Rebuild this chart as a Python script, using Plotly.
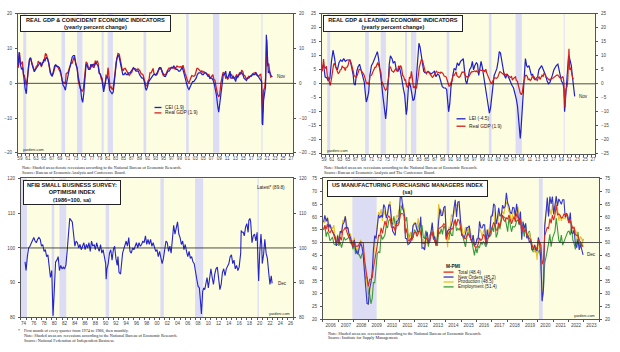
import plotly.graph_objects as go

# ---------------- DATA ----------------
# Panel 1 / 2 : Real GDP yoy (quarterly)
gdp_t = [1959.1,1959.4,1959.6,1959.9,1960.1,1960.4,1960.6,1960.9,1961.1,1961.4,1961.6,1961.9,
 1962.1,1962.4,1962.6,1962.9,1963.1,1963.4,1963.6,1963.9,1964.1,1964.4,1964.6,1964.9,
 1965.1,1965.4,1965.6,1965.9,1966.1,1966.4,1966.6,1966.9,1967.1,1967.4,1967.6,1967.9,
 1968.1,1968.4,1968.6,1968.9,1969.1,1969.4,1969.6,1969.9,1970.1,1970.4,1970.6,1970.9,
 1971.1,1971.4,1971.6,1971.9,1972.1,1972.4,1972.6,1972.9,1973.1,1973.4,1973.6,1973.9,
 1974.1,1974.4,1974.6,1974.9,1975.1,1975.4,1975.6,1975.9,1976.1,1976.4,1976.6,1976.9,
 1977.1,1977.4,1977.6,1977.9,1978.1,1978.4,1978.6,1978.9,1979.1,1979.4,1979.6,1979.9,
 1980.1,1980.4,1980.6,1980.9,1981.1,1981.4,1981.6,1981.9,1982.1,1982.4,1982.6,1982.9,
 1983.1,1983.4,1983.6,1983.9,1984.1,1984.4,1984.6,1984.9,1985.1,1985.4,1985.6,1985.9,
 1986.1,1986.4,1986.6,1986.9,1987.1,1987.4,1987.6,1987.9,1988.1,1988.4,1988.6,1988.9,
 1989.1,1989.4,1989.6,1989.9,1990.1,1990.4,1990.6,1990.9,1991.1,1991.4,1991.6,1991.9,
 1992.1,1992.4,1992.6,1992.9,1993.1,1993.4,1993.6,1993.9,1994.1,1994.4,1994.6,1994.9,
 1995.1,1995.4,1995.6,1995.9,1996.1,1996.4,1996.6,1996.9,1997.1,1997.4,1997.6,1997.9,
 1998.1,1998.4,1998.6,1998.9,1999.1,1999.4,1999.6,1999.9,2000.1,2000.4,2000.6,2000.9,
 2001.1,2001.4,2001.6,2001.9,2002.1,2002.4,2002.6,2002.9,2003.1,2003.4,2003.6,2003.9,
 2004.1,2004.4,2004.6,2004.9,2005.1,2005.4,2005.6,2005.9,2006.1,2006.4,2006.6,2006.9,
 2007.1,2007.4,2007.6,2007.9,2008.1,2008.4,2008.6,2008.9,2009.1,2009.4,2009.6,2009.9,
 2010.1,2010.4,2010.6,2010.9,2011.1,2011.4,2011.6,2011.9,2012.1,2012.4,2012.6,2012.9,
 2013.1,2013.4,2013.6,2013.9,2014.1,2014.4,2014.6,2014.9,2015.1,2015.4,2015.6,2015.9,
 2016.1,2016.4,2016.6,2016.9,2017.1,2017.4,2017.6,2017.9,2018.1,2018.4,2018.6,2018.9,
 2019.1,2019.4,2019.6,2019.9,2020.1,2020.4,2020.6,2020.9,2021.1,2021.4,2021.6,2021.9,
 2022.1,2022.4,2022.6]
gdp_v = [4.5,8.8,6.0,5.5,6.3,2.3,2.3,0.5,-0.6,1.8,4.5,6.6,
 7.4,6.3,5.8,4.0,3.7,4.1,4.9,5.2,6.4,5.8,5.8,4.7,
 5.9,6.0,6.6,8.5,8.4,7.3,6.5,4.5,3.0,2.5,2.3,3.0,
 4.4,5.2,5.1,4.9,4.4,3.7,3.3,2.0,0.7,0.2,0.3,-0.2,
 2.8,3.0,3.3,4.4,5.0,5.9,5.8,6.6,7.6,6.3,5.2,4.0,
 1.0,-0.2,-1.5,-1.9,-2.3,-1.7,0.3,2.6,6.2,5.7,4.7,4.4,
 4.2,4.8,5.5,4.6,4.6,6.5,5.7,6.5,5.8,2.9,2.8,1.3,
 1.4,-0.8,-1.3,0.0,2.3,2.1,4.5,1.3,-1.4,-1.0,-1.8,-1.4,
 1.6,3.5,6.0,7.8,8.6,8.4,6.8,5.8,4.2,3.6,4.2,4.3,
 3.9,3.2,3.0,2.3,2.6,3.3,3.3,4.5,4.2,4.2,4.0,3.8,
 4.2,3.9,3.6,2.7,2.7,2.4,1.5,0.6,-0.8,-0.6,0.6,1.2,
 3.0,3.0,3.5,4.3,2.9,2.6,2.3,2.6,3.6,4.2,4.1,4.3,
 3.4,2.4,2.6,2.4,2.6,3.7,3.9,4.4,4.3,4.5,4.6,4.3,
 4.6,4.1,4.5,5.0,4.8,4.7,4.7,4.8,4.2,5.2,4.0,2.9,
 2.3,1.0,0.5,0.2,1.1,1.7,2.2,2.0,2.0,2.3,3.5,4.3,
 4.3,3.9,3.7,3.3,3.7,3.1,3.4,3.1,3.1,2.8,2.3,2.6,
 1.3,1.9,2.3,2.5,1.2,0.9,-0.5,-2.8,-3.3,-3.9,-3.2,0.1,
 1.6,3.0,3.1,2.6,1.5,1.7,1.2,1.6,2.6,2.3,2.5,1.5,
 1.6,1.2,2.0,2.6,1.5,2.7,3.1,2.6,3.8,3.4,2.4,2.2,
 1.6,1.3,1.6,2.0,1.9,2.1,2.3,2.8,2.9,3.2,3.1,2.3,
 2.2,2.0,2.4,2.6,0.6,-8.4,-2.1,-1.1,1.2,12.5,5.0,5.7,
 3.7,1.8,1.9]

# Panel 1 : Coincident Economic Indicators yoy
cei_t = [1959.0,1959.3,1959.6,1959.9,1960.2,1960.5,1960.8,1961.1,1961.3,1961.6,1961.9,
 1962.2,1962.5,1962.8,1963.1,1963.4,1963.7,1964.0,1964.3,1964.6,1964.9,1965.2,1965.5,1965.8,
 1966.1,1966.4,1966.7,1967.0,1967.3,1967.6,1967.9,1968.2,1968.5,1968.8,1969.1,1969.4,1969.7,
 1970.0,1970.3,1970.6,1970.9,1971.1,1971.4,1971.7,1972.0,1972.3,1972.6,1972.9,1973.2,1973.5,
 1973.8,1974.1,1974.4,1974.7,1975.0,1975.25,1975.5,1975.8,1976.1,1976.4,1976.7,1977.0,1977.3,
 1977.6,1977.9,1978.2,1978.5,1978.8,1979.1,1979.4,1979.7,1980.0,1980.3,1980.5,1980.8,1981.1,
 1981.4,1981.7,1982.0,1982.3,1982.6,1982.9,1983.2,1983.5,1983.8,1984.1,1984.4,1984.7,1985.0,
 1985.3,1985.6,1985.9,1986.2,1986.5,1986.8,1987.1,1987.4,1987.7,1988.0,1988.3,1988.6,1988.9,
 1989.2,1989.5,1989.8,1990.1,1990.4,1990.7,1991.0,1991.2,1991.5,1991.8,1992.1,1992.4,1992.7,
 1993.0,1993.3,1993.6,1993.9,1994.2,1994.5,1994.8,1995.1,1995.4,1995.7,1996.0,1996.3,1996.6,
 1996.9,1997.2,1997.5,1997.8,1998.1,1998.4,1998.7,1999.0,1999.3,1999.6,1999.9,2000.2,2000.5,
 2000.8,2001.1,2001.4,2001.7,2001.9,2002.2,2002.5,2002.8,2003.1,2003.4,2003.7,2004.0,2004.3,
 2004.6,2004.9,2005.2,2005.5,2005.8,2006.1,2006.4,2006.7,2007.0,2007.3,2007.6,2007.9,2008.2,
 2008.5,2008.8,2009.1,2009.35,2009.6,2009.9,2010.2,2010.5,2010.8,2011.1,2011.3,2011.6,2011.9,
 2012.2,2012.4,2012.7,2013.0,2013.3,2013.6,2013.9,2014.2,2014.5,2014.8,2015.1,2015.4,2015.7,
 2016.0,2016.3,2016.6,2016.9,2017.2,2017.5,2017.8,2018.1,2018.4,2018.7,2019.0,2019.3,2019.6,
 2019.9,2020.1,2020.25,2020.4,2020.6,2020.8,2021.0,2021.1,2021.3,2021.45,2021.6,2021.8,2022.0,
 2022.3,2022.6,2022.85]
cei_v = [5.0,9.0,5.5,4.0,4.5,1.0,-1.5,-3.0,0.5,4.5,7.0,
 7.3,5.5,4.0,3.3,4.0,4.5,4.8,5.5,6.0,5.0,6.3,6.8,6.5,
 7.5,7.0,6.0,4.0,2.5,2.0,3.5,5.0,5.3,4.8,4.8,4.5,3.5,
 1.5,-0.5,-1.0,-2.0,-0.5,2.0,3.0,4.5,6.5,7.5,8.0,8.0,5.5,
 4.5,2.0,0.5,-1.5,-4.5,-5.5,-3.0,1.0,5.5,5.0,4.0,4.0,5.5,
 5.0,5.5,5.0,6.0,5.5,5.0,3.0,2.5,1.5,-1.5,-2.5,-0.5,1.5,
 2.0,1.0,-2.0,-2.5,-3.0,-2.5,0.0,4.0,7.0,8.2,7.5,6.0,4.0,
 2.5,2.5,3.0,2.5,2.5,3.0,3.0,3.5,4.0,4.5,4.0,3.5,3.5,
 3.5,2.5,2.0,1.5,1.5,0.5,-1.5,-2.0,-1.0,0.5,1.0,1.5,2.0,
 2.5,2.5,2.5,3.0,4.0,4.5,4.5,3.5,2.5,2.0,2.0,3.0,3.5,
 3.5,4.0,4.5,4.5,5.0,4.5,4.0,4.0,3.5,3.5,4.0,4.5,3.5,
 2.0,0.5,-0.5,-1.5,-1.8,-1.0,0.0,0.5,0.5,1.0,1.5,2.5,3.0,
 3.0,3.0,2.5,2.5,3.0,3.0,2.5,2.0,2.0,1.5,1.5,1.0,0.0,
 -1.5,-3.5,-6.5,-8.3,-6.0,-2.5,0.5,2.5,2.5,3.5,2.0,1.5,2.5,
 3.5,1.5,1.5,2.0,1.5,0.5,2.0,2.0,2.5,3.0,3.0,2.5,1.5,
 1.0,0.8,1.5,1.5,2.0,2.0,2.5,2.5,2.5,3.0,2.5,2.0,1.5,
 1.0,0.5,-11.5,-12.0,-5.0,-3.0,-2.0,-1.0,14.0,9.0,4.0,3.0,3.5,
 2.5,2.0,1.9]

# Panel 2 : Leading Economic Indicators yoy
lei_t = [1959.0,1959.4,1959.8,1960.3,1960.6,1961.0,1961.4,1961.8,1962.2,1962.5,1962.9,1963.3,1963.7,
 1964.1,1964.5,1964.9,1965.3,1965.7,1966.1,1966.5,1966.9,1967.1,1967.4,1967.8,1968.1,1968.5,1968.9,
 1969.3,1969.7,1970.0,1970.2,1970.5,1970.8,1971.1,1971.5,1971.9,1972.3,1972.7,1973.0,1973.3,1973.7,
 1974.0,1974.4,1974.8,1975.1,1975.4,1975.7,1976.0,1976.3,1976.7,1977.0,1977.4,1977.8,1978.2,1978.6,
 1978.9,1979.2,1979.6,1979.9,1980.3,1980.5,1980.8,1981.1,1981.4,1981.7,1982.0,1982.3,1982.6,1982.9,
 1983.2,1983.5,1983.8,1984.1,1984.4,1984.7,1985.0,1985.4,1985.8,1986.2,1986.6,1987.0,1987.4,1987.8,
 1988.2,1988.6,1989.0,1989.4,1989.8,1990.2,1990.5,1990.8,1991.0,1991.3,1991.6,1992.0,1992.4,1992.8,
 1993.2,1993.6,1994.0,1994.4,1994.7,1995.0,1995.3,1995.6,1995.9,1996.3,1996.7,1997.0,1997.3,1997.6,
 1998.0,1998.3,1998.6,1998.9,1999.2,1999.5,1999.8,2000.1,2000.4,2000.7,2001.0,2001.3,2001.6,2001.9,
 2002.2,2002.5,2002.8,2003.2,2003.5,2003.8,2004.1,2004.4,2004.7,2005.0,2005.4,2005.8,2006.2,2006.6,
 2007.0,2007.4,2007.8,2008.1,2008.4,2008.7,2008.9,2009.1,2009.3,2009.6,2009.9,2010.2,2010.4,2010.7,
 2011.0,2011.3,2011.6,2011.9,2012.2,2012.5,2012.8,2013.1,2013.5,2013.8,2014.1,2014.5,2014.8,2015.1,
 2015.5,2015.9,2016.2,2016.6,2016.9,2017.2,2017.6,2017.9,2018.2,2018.6,2018.9,2019.2,2019.5,2019.9,
 2020.1,2020.3,2020.5,2020.7,2020.9,2021.1,2021.3,2021.5,2021.8,2022.0,2022.2,2022.4,2022.6,2022.75,
 2022.85]
lei_v = [5.5,7.0,2.5,2.0,1.0,2.0,8.0,12.0,9.0,6.0,5.0,7.5,8.5,
 8.0,9.0,8.0,8.5,8.5,8.5,6.0,3.0,0.0,-0.5,4.5,6.0,7.0,5.0,
 3.0,0.5,-4.0,-6.5,-5.0,-3.0,3.0,6.5,7.5,9.0,10.0,11.5,9.0,5.0,
 1.0,-4.5,-10.0,-12.5,-8.0,0.0,7.0,10.0,9.0,7.5,8.0,5.0,4.5,6.0,
 4.0,1.5,-2.0,-4.0,-11.0,-9.0,-2.0,0.5,-1.0,-4.0,-6.0,-5.5,-3.0,3.0,
 10.0,14.5,13.0,10.0,7.0,4.5,4.0,4.0,4.5,4.0,3.5,4.0,4.5,2.5,
 3.5,3.0,1.0,-1.0,-1.5,-1.5,-2.0,-6.0,-10.0,-7.0,-1.0,2.5,5.5,5.0,
 7.5,6.5,8.0,8.5,9.0,5.0,1.0,0.0,2.0,5.0,6.0,8.0,5.0,6.5,
 7.5,7.0,3.0,5.5,8.0,6.0,3.5,1.0,-2.0,-5.5,-7.5,-10.5,-8.5,-5.0,
 -1.0,3.0,4.0,5.5,8.0,11.5,11.0,9.0,6.0,3.5,2.0,3.5,2.0,0.5,
 -0.5,-1.5,-3.5,-5.5,-8.0,-12.0,-17.0,-19.5,-16.0,-8.0,0.5,8.5,9.0,6.5,
 6.0,6.5,4.5,3.0,3.5,2.0,1.5,2.0,2.5,5.0,5.5,6.5,5.5,4.5,
 3.0,1.0,0.0,0.5,1.5,3.0,5.0,6.0,6.5,7.0,5.0,2.5,1.0,0.0,
 -1.5,-10.0,-6.0,-2.0,0.5,6.0,10.0,9.5,7.5,6.5,3.5,1.0,-2.0,-4.0,
 -4.5]

# Panel 3 : NFIB Small Business Optimism Index
nfib_t = [1974.8,1975.0,1975.25,1975.5,1975.75,1976.0,1976.25,1976.5,1976.75,1977.0,1977.25,1977.5,
 1977.75,1978.0,1978.25,1978.5,1978.75,1979.0,1979.25,1979.5,1979.75,1980.0,1980.25,1980.5,1980.75,
 1981.0,1981.25,1981.5,1981.75,1982.0,1982.25,1982.5,1982.75,1983.0,1983.25,1983.5,1983.75,1984.0,
 1984.25,1984.5,1984.75,1985.0,1985.25,1985.5,1985.75,1986.0,1986.25,1986.5,1986.75,1987.0,1987.25,
 1987.5,1987.75,1988.0,1988.25,1988.5,1988.75,1989.0,1989.25,1989.5,1989.75,1990.0,1990.25,1990.5,
 1990.6,1990.75,1991.0,1991.25,1991.5,1991.75,1992.0,1992.25,1992.5,1992.75,1992.9,1993.1,1993.4,
 1993.6,1993.8,1994.0,1994.25,1994.5,1994.75,1995.0,1995.25,1995.5,1995.75,1996.0,1996.25,1996.5,
 1996.75,1997.0,1997.25,1997.5,1997.75,1998.0,1998.25,1998.5,1998.75,1999.0,1999.25,1999.5,1999.75,
 2000.0,2000.25,2000.5,2000.75,2001.0,2001.25,2001.5,2001.75,2002.0,2002.25,2002.5,2002.75,2003.0,
 2003.25,2003.5,2003.75,2004.0,2004.25,2004.5,2004.75,2005.0,2005.25,2005.5,2005.75,2006.0,2006.25,
 2006.5,2006.75,2007.0,2007.25,2007.5,2007.75,2008.0,2008.25,2008.5,2008.75,2009.0,2009.15,2009.4,
 2009.6,2009.8,2010.0,2010.25,2010.5,2010.75,2011.0,2011.25,2011.5,2011.75,2012.0,2012.25,2012.5,
 2012.75,2013.0,2013.25,2013.5,2013.75,2014.0,2014.25,2014.5,2014.75,2015.0,2015.25,2015.5,2015.75,
 2016.0,2016.25,2016.5,2016.8,2016.9,2017.1,2017.3,2017.5,2017.75,2018.0,2018.25,2018.4,2018.6,
 2018.75,2019.0,2019.25,2019.5,2019.75,2020.0,2020.15,2020.3,2020.5,2020.75,2020.9,2021.0,2021.25,
 2021.5,2021.75,2022.0,2022.25,2022.5,2022.75,2022.92]
nfib_v = [96.0,93.5,97.5,100.0,100.5,101.5,102.0,103.0,102.0,101.5,102.5,103.0,
 102.5,100.5,101.0,99.0,99.5,97.5,98.0,95.0,91.5,93.5,80.5,88.0,96.0,
 96.5,97.5,93.5,95.0,94.0,94.5,94.0,95.0,99.0,103.0,108.5,108.0,107.5,
 104.0,100.5,102.0,101.5,100.0,101.0,99.5,100.5,101.5,99.5,101.0,100.0,101.5,
 99.0,102.0,100.5,101.0,99.5,101.5,100.0,99.0,101.0,98.5,99.5,97.0,95.5,
 91.0,94.0,95.5,98.5,99.5,96.5,99.5,100.5,97.0,95.0,97.5,93.0,92.5,
 96.0,98.5,99.5,100.5,102.0,100.5,103.0,99.0,98.5,100.0,99.5,100.5,101.5,
 100.0,101.5,100.5,101.0,102.0,101.5,103.5,101.0,102.5,101.0,102.5,100.5,101.5,
 100.5,99.0,99.5,97.5,99.0,97.0,95.5,97.0,99.5,102.0,101.5,99.0,100.5,
 98.5,102.5,106.5,104.0,106.0,107.5,104.0,103.0,101.0,102.0,99.5,101.0,99.0,
 97.5,99.0,97.0,97.5,96.0,95.5,92.5,91.0,89.0,88.5,84.0,81.0,87.5,
 88.5,88.0,89.5,91.5,88.5,92.0,94.0,91.5,89.5,92.5,94.0,94.5,90.5,
 88.0,89.5,93.0,94.0,92.0,94.0,95.0,95.5,97.5,98.0,95.5,96.5,94.0,
 95.0,93.5,94.5,98.5,105.0,104.5,104.5,103.5,106.0,107.0,104.5,108.0,108.5,
 107.5,101.5,103.5,104.0,102.0,104.5,96.5,90.5,98.5,104.0,101.0,95.5,98.0,
 102.5,98.5,97.0,93.0,89.5,92.0,89.8]

# Panel 4 : ISM manufacturing PMI, monthly Jan 2006 - Dec 2022
pmi_years = list(range(2006, 2023))
pmi_total = [54.8,56.7,55.2,57.3,54.4,53.8,54.7,54.5,52.9,51.2,49.5,51.4,
 49.3,52.3,50.9,54.7,55.0,56.0,53.8,52.9,52.0,50.9,50.8,48.4,
 50.7,48.3,48.6,48.6,49.6,50.2,50.0,49.9,43.5,38.9,36.2,32.9,
 35.6,35.8,36.3,40.1,42.8,44.8,48.9,52.8,52.6,55.7,53.6,55.9,
 58.4,56.5,59.6,60.4,59.7,56.2,55.5,56.3,54.4,56.9,56.6,57.5,
 60.8,61.4,61.2,60.4,53.5,55.3,50.9,50.6,51.6,50.8,52.7,53.9,
 54.1,52.4,53.4,54.8,53.5,49.7,49.8,49.6,51.5,51.7,49.5,50.7,
 53.1,54.2,51.3,50.7,49.0,50.9,55.4,55.7,56.2,56.4,57.3,57.0,
 51.3,53.2,53.7,54.9,55.4,55.3,57.1,59.0,56.6,59.0,58.7,55.5,
 53.5,52.9,51.5,51.5,52.8,53.5,52.7,51.1,50.2,50.1,48.6,48.2,
 48.2,49.5,51.8,50.8,51.3,53.2,52.6,49.4,51.5,51.9,53.2,54.7,
 56.0,57.7,57.2,54.8,54.9,57.8,56.3,58.8,60.8,58.7,58.2,59.7,
 59.1,60.8,59.3,57.3,58.7,60.2,58.1,61.3,59.8,57.7,59.3,54.1,
 56.6,54.2,55.3,52.8,52.1,51.7,51.2,49.1,47.8,48.3,48.1,47.2,
 50.9,50.1,49.1,41.5,43.1,52.6,54.2,56.0,55.4,59.3,57.5,60.7,
 58.7,60.8,64.7,60.7,61.2,60.6,59.5,59.9,61.1,60.8,61.1,58.8,
 57.6,58.6,57.1,55.4,56.1,53.0,52.8,52.8,50.9,50.2,49.0,48.4]
pmi_new_orders = [58.0,60.6,58.3,59.5,55.8,57.1,55.2,54.0,53.0,52.3,48.7,52.7,
 49.5,54.4,53.9,57.0,57.9,60.2,55.4,55.9,53.2,52.0,49.7,48.1,
 51.1,47.2,45.9,45.7,48.2,49.6,48.4,45.1,38.4,30.8,26.2,26.0,
 32.0,34.2,38.3,47.3,52.7,51.6,55.2,60.8,59.6,60.7,59.8,64.8,
 63.8,59.5,61.2,64.7,64.6,57.5,54.5,53.6,52.8,58.3,58.4,59.9,
 67.8,68.0,63.3,61.4,51.7,51.5,49.2,49.6,50.2,52.4,56.7,57.3,
 57.6,54.9,54.3,54.5,60.1,47.8,48.0,47.1,52.3,54.2,50.3,50.3,
 53.3,57.8,51.4,52.3,48.8,51.9,58.3,63.2,60.5,60.6,63.6,64.2,
 51.2,54.5,55.1,55.1,56.9,58.9,63.4,66.7,60.0,65.8,66.0,57.3,
 52.9,52.5,51.8,53.5,55.8,56.0,56.5,51.7,50.1,52.9,48.9,49.2,
 51.5,51.5,58.3,55.8,55.7,57.0,56.9,49.1,55.1,52.1,53.0,60.2,
 60.4,65.1,64.5,57.2,59.5,63.5,60.4,60.3,64.6,63.4,64.0,69.4,
 65.4,64.2,61.9,61.2,63.7,63.5,60.2,65.1,61.8,57.4,62.1,51.1,
 58.2,55.5,57.4,51.7,52.7,50.0,50.8,47.2,47.3,49.1,47.2,46.8,
 52.0,49.8,42.2,27.1,31.8,56.4,61.5,67.6,60.2,67.9,65.1,67.9,
 61.1,64.8,68.0,64.3,67.0,66.0,64.9,66.7,66.7,59.8,61.5,60.4,
 57.9,61.7,53.8,53.5,55.1,49.2,48.0,51.3,47.1,49.2,47.2,45.2]
pmi_production = [57.5,58.0,58.4,60.0,56.9,55.5,56.1,55.4,56.8,52.0,50.7,53.2,
 50.6,54.2,52.9,58.6,58.5,60.3,57.5,54.7,52.2,53.5,50.9,48.4,
 52.0,47.3,47.7,46.9,48.3,51.1,48.0,48.2,40.5,36.0,34.0,25.6,
 31.5,34.9,37.4,42.4,49.9,51.7,57.9,61.9,60.7,63.0,58.4,62.5,
 61.0,60.6,60.7,64.0,66.2,59.7,58.9,57.0,56.9,60.6,59.9,62.7,
 64.2,64.5,65.2,63.1,54.2,55.6,52.0,50.0,54.0,52.1,56.4,57.8,
 56.4,55.5,59.4,55.2,54.5,51.0,51.2,47.2,49.5,52.4,51.1,51.9,
 53.6,57.2,52.1,51.6,48.6,53.4,65.0,62.4,62.6,60.8,62.8,62.2,
 54.8,48.2,55.9,55.7,61.0,60.0,61.2,64.5,64.6,64.8,64.4,58.5,
 56.5,53.7,53.8,56.0,54.5,54.0,56.0,53.6,51.8,52.9,49.2,49.9,
 50.2,52.8,55.3,54.6,52.1,54.3,55.4,49.6,52.8,54.6,56.0,60.3,
 61.4,62.9,57.6,58.6,57.1,61.4,60.6,61.0,62.2,61.0,63.9,65.8,
 64.5,62.0,61.0,57.6,61.3,62.3,58.5,63.3,63.9,60.8,60.6,54.3,
 55.5,54.8,55.8,52.3,51.3,54.1,50.8,49.5,47.3,46.2,49.1,43.2,
 50.3,50.3,47.7,27.5,33.2,57.3,62.1,63.3,61.0,63.0,60.8,64.7,
 60.7,63.2,68.1,62.5,58.5,60.8,58.4,60.0,59.4,59.3,61.5,58.7,
 57.8,58.5,54.5,53.6,54.2,54.9,53.5,50.4,50.6,52.3,51.5,48.5]
pmi_employment = [55.2,56.7,52.3,54.2,53.1,50.7,51.4,52.1,49.5,49.1,49.3,49.3,
 48.8,50.2,48.0,50.7,52.1,51.0,51.3,51.6,52.6,49.8,49.9,47.3,
 49.8,45.5,47.5,45.3,45.2,43.7,45.5,46.0,41.2,35.7,36.7,29.9,
 29.9,26.1,28.1,34.4,34.3,40.7,45.6,46.4,46.0,53.1,51.2,52.0,
 53.0,56.6,55.7,58.5,59.1,57.4,57.2,60.2,56.5,57.7,57.5,58.0,
 61.7,64.5,63.0,62.7,58.2,59.9,53.5,51.8,53.8,53.5,51.8,55.1,
 54.3,53.2,56.1,57.3,56.9,56.6,52.0,51.6,54.7,52.1,48.4,52.7,
 54.0,52.6,54.2,50.2,50.1,48.7,54.4,53.3,55.4,53.2,56.5,55.8,
 52.3,52.3,51.1,54.7,52.8,52.8,58.2,58.1,54.6,55.5,54.9,56.0,
 54.1,51.4,50.0,48.3,51.7,55.5,52.7,51.2,50.5,47.6,45.0,48.1,
 45.9,48.5,48.1,50.2,49.2,50.4,49.4,48.3,49.7,52.9,52.3,53.1,
 56.1,54.2,58.9,52.0,53.5,57.2,55.2,59.9,60.3,59.8,59.7,57.0,
 54.2,59.7,57.3,54.2,56.3,56.0,56.5,58.5,58.8,56.8,58.4,56.2,
 55.5,52.3,57.5,52.4,53.7,54.5,51.7,47.4,46.3,47.7,46.6,45.1,
 46.6,46.9,43.8,27.5,32.1,42.1,44.3,46.4,49.6,53.2,48.4,51.5,
 52.6,54.4,59.6,55.1,50.9,49.9,52.9,49.0,50.2,52.0,53.3,54.2,
 54.5,52.9,56.3,50.9,49.6,47.3,49.9,54.2,48.7,50.0,48.4,51.4]

# NBER recessions (decimal years)
rec_start = [1960.33, 1969.92, 1973.83, 1980.0, 1981.5, 1990.5, 2001.17, 2007.92, 2020.08]
rec_end   = [1961.08, 1970.83, 1975.17, 1980.5, 1982.83, 1991.17, 2001.83, 2009.5, 2020.33]

# tick labels
p12_years = list(range(1959, 2028, 2))
p3_years = list(range(1974, 2027, 2))
p4_years = list(range(2006, 2024))

# ---------------- FIGURE ----------------
W, H = 620, 352
def fx(p): return p / W
def fy(p): return 1 - p / H

BG = "#fdfde2"
REC = "#dcdcf4"
TICKF = dict(family="Liberation Sans, Arial", size=4.6, color="#444")
SANS = "Liberation Sans, Arial"
SERIF = "Liberation Serif, Times New Roman"

fig = go.Figure()
layout = dict(width=W, height=H, margin=dict(l=0, r=0, t=0, b=0),
              paper_bgcolor="white", plot_bgcolor=BG, showlegend=False)

panels = [
    dict(px=(17, 293), py=(12, 153), xr=[1959, 2028], yr=[-20, 20], ytv=list(range(-20, 21, 10)),
         xtv=[y + 0.5 for y in p12_years], xtt=[str(y)[2:] for y in p12_years], base=0),
    dict(px=(322, 596), py=(12, 154), xr=[1959, 2028], yr=[-25, 25], ytv=list(range(-25, 26, 5)),
         xtv=[y + 0.5 for y in p12_years], xtt=[str(y)[2:] for y in p12_years], base=0),
    dict(px=(20, 293), py=(179, 320), xr=[1974, 2027], yr=[80, 120], ytv=list(range(80, 121, 10)),
         xtv=[y + 0.5 for y in p3_years], xtt=[str(y)[2:] for y in p3_years], base=100),
    dict(px=(323, 600), py=(179, 322), xr=[2006, 2024], yr=[20, 75], ytv=list(range(20, 76, 5)),
         xtv=[y + 0.5 for y in p4_years], xtt=[str(y) for y in p4_years], base=50),
]

shapes = []
for i, p in enumerate(panels, start=1):
    s = "" if i == 1 else str(i)
    xdom = [fx(p["px"][0]), fx(p["px"][1])]
    ydom = [fy(p["py"][1]), fy(p["py"][0])]
    layout["xaxis" + s] = dict(domain=xdom, range=p["xr"], anchor="y" + s,
        tickmode="array", tickvals=p["xtv"], ticktext=p["xtt"], ticks="", tickfont=TICKF,
        showgrid=False, zeroline=False, showline=True, mirror=True, linecolor="#555", linewidth=1,
        ticklabelstandoff=1,
        minor=dict(tickmode="linear", tick0=0, dtick=1, ticks="outside", ticklen=2, tickcolor="#555"))
    layout["yaxis" + s] = dict(domain=ydom, range=p["yr"], anchor="x" + s,
        tickmode="array", tickvals=p["ytv"], ticks="outside", ticklen=2, tickcolor="#555",
        tickfont=TICKF, showgrid=False, zeroline=False, showline=True, mirror=True,
        linecolor="#555", linewidth=1, ticklabelstandoff=2)
    r = str(i + 4)
    layout["yaxis" + r] = dict(overlaying="y" + s, side="right", anchor="x" + s, range=p["yr"],
        tickmode="array", tickvals=p["ytv"], ticks="outside", ticklen=2, tickcolor="#555",
        tickfont=TICKF, showgrid=False, zeroline=False, showline=False, ticklabelstandoff=2)
    fig.add_trace(go.Scatter(x=[p["xr"][0]], y=[p["yr"][0]], xaxis="x" + s, yaxis="y" + r,
                             mode="lines", line=dict(width=0), hoverinfo="skip"))
    for a, b in zip(rec_start, rec_end):
        if b < p["xr"][0]:
            continue
        shapes.append(dict(type="rect", xref="x" + s, yref="y" + s + " domain",
                           x0=max(a, p["xr"][0]), x1=b, y0=0, y1=1,
                           fillcolor=REC, line=dict(width=0), layer="below"))
    shapes.append(dict(type="line", xref="x" + s + " domain", yref="y" + s, x0=0, x1=1,
                       y0=p["base"], y1=p["base"], line=dict(color="#222", width=0.8)))

BLUE = "#2020c8"
RED = "#d41e1e"
# panel 1
fig.add_trace(go.Scatter(x=gdp_t, y=gdp_v, xaxis="x", yaxis="y", mode="lines",
                         line=dict(color=RED, width=1.3)))
fig.add_trace(go.Scatter(x=cei_t, y=cei_v, xaxis="x", yaxis="y", mode="lines",
                         line=dict(color=BLUE, width=1.2)))
# panel 2
fig.add_trace(go.Scatter(x=lei_t, y=lei_v, xaxis="x2", yaxis="y2", mode="lines",
                         line=dict(color=BLUE, width=1.2)))
fig.add_trace(go.Scatter(x=gdp_t, y=gdp_v, xaxis="x2", yaxis="y2", mode="lines",
                         line=dict(color=RED, width=1.2)))
# panel 3
fig.add_trace(go.Scatter(x=nfib_t, y=nfib_v, xaxis="x3", yaxis="y3", mode="lines",
                         line=dict(color="#2424c8", width=1.1)))
# panel 4
pmi_t = [y + (m + 0.5) / 12 for y in pmi_years for m in range(12)]
PMI_COL = dict(total="#e02a1c", new_orders="#3434c8", production="#e8c02a", employment="#3a9a3a")
for vals, col in [(pmi_employment, PMI_COL["employment"]), (pmi_production, PMI_COL["production"]),
                  (pmi_new_orders, PMI_COL["new_orders"]), (pmi_total, PMI_COL["total"])]:
    fig.add_trace(go.Scatter(x=pmi_t, y=vals, xaxis="x4", yaxis="y4", mode="lines",
                             line=dict(color=col, width=1.1)))

ann = []
def text(x, y, t, size=4.6, xanchor="left", yanchor="middle", font=SANS, color="#222", **kw):
    ann.append(dict(x=x, y=y, xref=kw.pop("xref", "paper"), yref=kw.pop("yref", "paper"),
                    text=t, showarrow=False, xanchor=xanchor, yanchor=yanchor,
                    font=dict(family=font, size=size, color=color), **kw))

def titlebox(x0, y0, x1, lines, size=5.6):
    ann.append(dict(x=fx(x0), y=fy(y0), xref="paper", yref="paper", xanchor="left", yanchor="top",
                    text="<br>".join("<b>%s</b>" % l for l in lines), showarrow=False,
                    align="center", bgcolor="white", bordercolor="#222", borderwidth=1, borderpad=1,
                    width=x1 - x0 - 4, font=dict(family=SANS, size=size, color="#111")))

titlebox(19, 13, 170, ["REAL GDP & COINCIDENT ECONOMIC INDICATORS", "(yearly percent change)"])
titlebox(323, 13, 463, ["REAL GDP & LEADING ECONOMIC INDICATORS", "(yearly percent change)"])
titlebox(22, 181, 120, ["NFIB SMALL BUSINESS SURVEY:", "OPTIMISM INDEX", "(1986=100, sa)"])
titlebox(327, 181, 488, ["US MANUFACTURING PURCHASING MANAGERS INDEX", "(sa)"])

# legends
def legline(x0, x1, y, col):
    shapes.append(dict(type="line", xref="paper", yref="paper", x0=fx(x0), x1=fx(x1),
                       y0=fy(y), y1=fy(y), line=dict(color=col, width=1.3)))

legline(154, 161, 107, BLUE); text(fx(163), fy(107), "CEI (1.9)", 4.8)
legline(154, 161, 112.5, RED); text(fx(163), fy(112.5), "Real GDP (1.9)", 4.8)
legline(457, 466, 118.5, BLUE); text(fx(468), fy(118.5), "LEI (-4.5)", 4.8)
legline(457, 466, 126, RED); text(fx(468), fy(126), "Real GDP (1.9)", 4.8)
text(fx(444), fy(268.5), "<b>M-PMI</b>", 4.8)
for yy, col, lab in [(274, PMI_COL["total"], "Total (48.4)"), (279, PMI_COL["new_orders"], "New Orders (45.2)"),
                     (284, PMI_COL["production"], "Production (48.5)"), (289, PMI_COL["employment"], "Employment (51.4)")]:
    legline(444, 454, yy, col); text(fx(456), fy(yy), lab, 4.6)

# end labels
text(2023.4, 1.9, "Nov", 4.6, xref="x", yref="y")
text(2023.4, -4.5, "Nov", 4.6, xref="x2", yref="y2")
text(2023.6, 89.8, "Dec", 4.6, xref="x3", yref="y3")
text(2023.1, 45.2, "Dec", 4.6, xref="x4", yref="y4")
text(fx(287), fy(188), "Latest* (89.8)", 4.6, xanchor="right")

# yardeni.com
text(fx(20), fy(150), "yardeni.com", 3.8)
text(fx(325), fy(151), "yardeni.com", 3.8)
text(fx(292), fy(317), "yardeni.com", 3.8, xanchor="right")
text(fx(598), fy(319), "yardeni.com", 3.8, xanchor="right")

# notes
text(fx(19), fy(167.5), "Note: Shaded areas denote recessions according to the National Bureau of Economic Research.", 4.2, font=SERIF)
text(fx(19), fy(172.5), "Source: Bureau of Economic Analysis and Conference Board.", 4.2, font=SERIF)
text(fx(322), fy(168), "Note: Shaded areas are recessions according to the National Bureau of Economic Research.", 4.2, font=SERIF)
text(fx(322), fy(173), "Source: Bureau of Economic Analysis and The Conference Board.", 4.2, font=SERIF)
text(fx(15), fy(333.5), "*", 4.2, font=SERIF)
text(fx(21), fy(333.5), "First month of every quarter from 1974 to 1986, then monthly.", 4.2, font=SERIF)
text(fx(21), fy(338.5), "Note: Shaded areas are recessions according to the National Bureau of Economic Research.", 4.2, font=SERIF)
text(fx(21), fy(343.5), "Source: National Federation of Independent Business.", 4.2, font=SERIF)
text(fx(326), fy(336), "Note: Shaded areas are recessions according to the National Bureau of Economic Research.", 4.2, font=SERIF)
text(fx(326), fy(340.5), "Source: Institute for Supply Management.", 4.2, font=SERIF)

layout["shapes"] = shapes
layout["annotations"] = ann
fig.update_layout(**layout)
fig.write_html("out.html")
